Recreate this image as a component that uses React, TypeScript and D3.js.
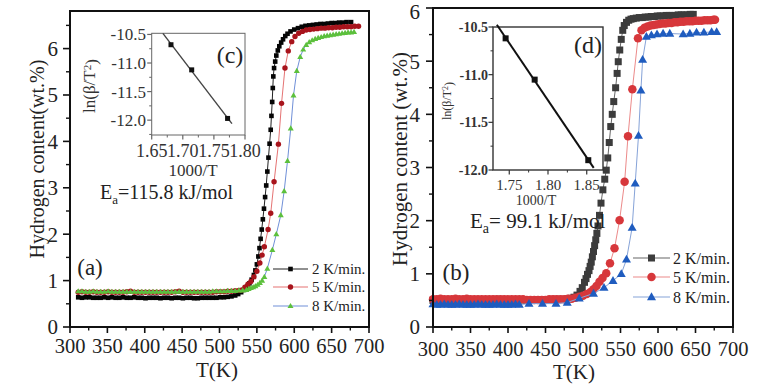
import React from "react";
import * as d3 from "d3";

const FONT = "'Liberation Serif','Times New Roman',serif";

type Pt = [number, number];

// ---------- axes ----------
const tempTicks = [300, 350, 400, 450, 500, 550, 600, 650, 700];
const tempMinor = [325, 375, 425, 475, 525, 575, 625, 675];
const contentTicks = [0, 1, 2, 3, 4, 5, 6];
const contentMinorA = [0.5, 1.5, 2.5, 3.5, 4.5, 5.5, 6.5];
const contentMinorB = [0.5, 1.5, 2.5, 3.5, 4.5, 5.5];
const rateLabels = ["2 K/min.", "5 K/min.", "8 K/min."];

// ---------- panel (a) ----------
const a2K: Pt[] = [
  [311, 0.64], [316, 0.63], [321, 0.64], [326, 0.64], [331, 0.63], [336, 0.63], [341, 0.63], [346, 0.64],
  [351, 0.63], [356, 0.64], [361, 0.63], [366, 0.63], [371, 0.64], [376, 0.63], [381, 0.63], [386, 0.64],
  [391, 0.63], [396, 0.63], [401, 0.62], [406, 0.63], [411, 0.63], [416, 0.63], [421, 0.62], [426, 0.63],
  [431, 0.63], [436, 0.62], [441, 0.63], [446, 0.63], [451, 0.62], [456, 0.63], [461, 0.63], [466, 0.62],
  [471, 0.62], [476, 0.63], [481, 0.63], [486, 0.63], [491, 0.63], [496, 0.63], [501, 0.64], [506, 0.64],
  [511, 0.65], [516, 0.66], [521, 0.68], [525, 0.71], [529, 0.75], [533, 0.8], [537, 0.87], [540, 0.94],
  [543, 1.02], [546, 1.12], [548, 1.22], [550, 1.35], [552, 1.52], [553.5, 1.7], [555, 1.9], [556.5, 2.1],
  [558, 2.32], [559.5, 2.55], [561, 2.8], [562.5, 3.05], [564, 3.35], [565.5, 3.65], [567, 3.95], [568.5, 4.25],
  [569.5, 4.55], [570.5, 4.85], [571.3, 5.15], [572, 5.4], [573, 5.58], [574.5, 5.72], [576, 5.85], [578, 5.96],
  [580, 6.05], [582.5, 6.13], [585, 6.2], [588, 6.27], [591, 6.32], [595, 6.37], [600, 6.41], [605, 6.44],
  [610, 6.47], [615, 6.49], [620, 6.5], [625, 6.51], [630, 6.52], [635, 6.53], [640, 6.53], [645, 6.54],
  [650, 6.55], [655, 6.55], [660, 6.56], [665, 6.56], [670, 6.57], [676, 6.57],
];
const a5K: Pt[] = [
  [311, 0.75], [316, 0.76], [321, 0.75], [326, 0.75], [331, 0.76], [336, 0.75], [341, 0.75], [346, 0.75],
  [351, 0.76], [356, 0.75], [361, 0.75], [366, 0.75], [371, 0.75], [376, 0.76], [381, 0.77], [386, 0.75],
  [391, 0.75], [396, 0.75], [401, 0.75], [406, 0.75], [411, 0.75], [416, 0.75], [421, 0.75], [426, 0.75],
  [431, 0.75], [436, 0.75], [441, 0.76], [446, 0.77], [451, 0.75], [456, 0.75], [461, 0.75], [466, 0.75],
  [471, 0.75], [476, 0.75], [481, 0.75], [486, 0.75], [491, 0.75], [496, 0.76], [501, 0.76], [506, 0.76],
  [511, 0.77], [516, 0.77], [521, 0.78], [526, 0.79], [530, 0.8], [534, 0.86], [538, 0.92], [542, 0.98],
  [546, 1.08], [550, 1.2], [554, 1.38], [557, 1.55], [560, 1.73], [565, 2.1], [568.5, 2.45], [573, 3.13],
  [578.8, 3.94], [583, 4.82], [587.6, 5.58], [592, 5.95], [596.6, 6.15], [601, 6.26], [606, 6.33], [611, 6.37],
  [616, 6.4], [621, 6.41], [626, 6.42], [631, 6.43], [636, 6.44], [641, 6.44], [646, 6.45], [651, 6.45],
  [656, 6.46], [661, 6.46], [666, 6.47], [671, 6.47], [676, 6.47], [681, 6.48], [686, 6.48],
];
const a8K: Pt[] = [
  [311, 0.77], [316, 0.77], [321, 0.76], [326, 0.76], [331, 0.77], [336, 0.76], [341, 0.76], [346, 0.76],
  [351, 0.77], [356, 0.76], [361, 0.76], [366, 0.76], [371, 0.76], [376, 0.76], [381, 0.76], [386, 0.76],
  [391, 0.76], [396, 0.76], [401, 0.76], [406, 0.76], [411, 0.76], [416, 0.76], [421, 0.76], [426, 0.76],
  [431, 0.76], [436, 0.76], [441, 0.76], [446, 0.76], [451, 0.76], [456, 0.76], [461, 0.76], [466, 0.76],
  [471, 0.76], [476, 0.76], [481, 0.76], [486, 0.76], [491, 0.77], [496, 0.77], [501, 0.77], [506, 0.77],
  [511, 0.78], [516, 0.78], [521, 0.78], [526, 0.79], [531, 0.79], [536, 0.8], [539, 0.82], [542, 0.84],
  [545, 0.86], [548, 0.88], [551, 0.91], [554, 0.95], [557, 1.0], [560, 1.08], [564, 1.26], [570.7, 1.66],
  [576, 2.0], [582, 2.41], [586.5, 2.93], [591, 3.58], [595.3, 4.28], [599, 4.99], [603.4, 5.52], [608, 5.82],
  [612, 5.98], [616, 6.08], [620, 6.14], [624, 6.18], [628, 6.21], [632, 6.23], [636, 6.25], [640, 6.27],
  [644, 6.28], [648, 6.29], [652, 6.3], [656, 6.31], [660, 6.32], [664, 6.33], [668, 6.34], [672, 6.35],
  [676, 6.35], [680, 6.36],
];

// inset (c)
const cInvT = [1.681, 1.7143, 1.772];
const cLnRate = [-10.68, -11.12, -11.97];
const cFitRange = [1.668, 1.779];
const cXTicks = [1.65, 1.7, 1.75, 1.8];
const cXMinor = [1.675, 1.725, 1.775];
const cYTicks = [-10.5, -11.0, -11.5, -12.0];
const cYMinor = [-10.75, -11.25, -11.75, -12.25];

// ---------- panel (b) ----------
const b2K: Pt[] = [
  [300, 0.5], [305, 0.5], [310, 0.5], [315, 0.51], [320, 0.5], [325, 0.5], [330, 0.51], [335, 0.5],
  [340, 0.5], [345, 0.5], [350, 0.51], [355, 0.5], [360, 0.5], [365, 0.5], [370, 0.51], [375, 0.5],
  [380, 0.51], [385, 0.52], [390, 0.52], [395, 0.51], [400, 0.51], [405, 0.5], [410, 0.5], [415, 0.51],
  [420, 0.51], [425, 0.5], [430, 0.5], [435, 0.5], [440, 0.51], [445, 0.51], [450, 0.51], [455, 0.51],
  [460, 0.52], [465, 0.52], [470, 0.52], [475, 0.52], [480, 0.53], [484, 0.54], [488, 0.56], [492, 0.6],
  [496, 0.67], [499, 0.74], [502, 0.84], [504, 0.91], [506, 0.99], [508, 1.06], [509.5, 1.14], [511, 1.22],
  [512.5, 1.32], [514, 1.42], [515.5, 1.53], [517, 1.64], [518.5, 1.76], [520, 1.9], [522, 2.1], [524, 2.33],
  [526.5, 2.58], [529, 2.78], [531, 2.95], [533, 3.18], [535, 3.47], [537, 3.77], [539, 4.0], [541, 4.24],
  [543.5, 4.5], [545.5, 4.77], [547, 4.99], [549, 5.21], [551, 5.41], [553, 5.58], [555, 5.67], [558, 5.73],
  [561, 5.77], [564, 5.79], [567, 5.8], [571, 5.81], [575, 5.82], [579, 5.82], [583, 5.83], [587, 5.83],
  [591, 5.84], [595, 5.84], [599, 5.85], [603, 5.85], [607, 5.85], [611, 5.86], [615, 5.86], [619, 5.86],
  [623, 5.86], [627, 5.87], [631, 5.87], [635, 5.87], [639, 5.87], [643, 5.88], [647, 5.88],
];
const b5K: Pt[] = [
  [300, 0.52], [305, 0.52], [310, 0.53], [315, 0.52], [320, 0.52], [325, 0.52], [330, 0.53], [335, 0.52],
  [340, 0.52], [345, 0.53], [350, 0.52], [355, 0.52], [360, 0.52], [365, 0.52], [370, 0.52], [375, 0.52],
  [380, 0.52], [385, 0.52], [390, 0.52], [395, 0.52], [400, 0.52], [405, 0.52], [410, 0.52], [415, 0.52],
  [420, 0.52], [425, 0.51], [430, 0.51], [435, 0.51], [440, 0.51], [445, 0.51], [450, 0.51], [455, 0.52],
  [460, 0.52], [465, 0.52], [470, 0.52], [475, 0.52], [480, 0.53], [485, 0.53], [490, 0.55], [495, 0.57],
  [500, 0.59], [505, 0.62], [510, 0.66], [514, 0.71], [518, 0.77], [522, 0.85], [526, 0.92], [531, 1.01],
  [536, 1.2], [542, 1.48], [548.8, 2.01], [555.5, 2.73], [560, 3.59], [565.8, 4.47], [573.3, 5.43], [578, 5.58],
  [582, 5.63], [586, 5.65], [590, 5.67], [594, 5.68], [598, 5.69], [602, 5.7], [606, 5.71], [610, 5.71],
  [614, 5.72], [618, 5.72], [622, 5.73], [626, 5.73], [630, 5.74], [634, 5.74], [638, 5.75], [642, 5.75],
  [646, 5.75], [650, 5.76], [654, 5.76], [658, 5.76], [662, 5.77], [666, 5.77], [670, 5.77], [674, 5.78],
  [676, 5.78],
];
const b8K: Pt[] = [
  [300, 0.43], [305, 0.42], [310, 0.42], [315, 0.43], [320, 0.42], [325, 0.42], [330, 0.42], [335, 0.43],
  [340, 0.42], [345, 0.42], [350, 0.42], [355, 0.42], [360, 0.43], [365, 0.42], [370, 0.42], [375, 0.42],
  [380, 0.42], [385, 0.43], [390, 0.42], [395, 0.42], [400, 0.42], [405, 0.42], [410, 0.43], [415, 0.42],
  [428, 0.44], [446, 0.44], [464, 0.44], [479, 0.46], [495, 0.54], [514, 0.63], [528, 0.74], [540, 0.87],
  [551, 1.0], [558, 1.27], [565.5, 1.87], [569.6, 2.7], [574, 3.6], [577.2, 4.45], [579.5, 5.03], [584.5, 5.46],
  [591.2, 5.49], [598.7, 5.51], [606.8, 5.52], [615.7, 5.52], [633.5, 5.51], [642.5, 5.52], [651.4, 5.54],
  [661.2, 5.54], [671.5, 5.55], [678.2, 5.55],
];

// inset (d)
const dInvT = [1.7453, 1.7828, 1.852];
const dLnRate = [-10.619, -11.052, -11.897];
const dFitRange = [1.734, 1.859];
const dXTicks = [1.75, 1.8, 1.85];
const dXMinor = [1.775, 1.825];
const dYTicks = [-10.5, -11.0, -11.5, -12.0];
const dYMinor = [-10.75, -11.25, -11.75];

// ---------- helpers ----------
type Series = {
  data: Pt[];
  shape: "square" | "circle" | "triangle";
  size: number;
  fill: string;
  line: string;
  lineWidth: number;
};

function Marker({ shape, x, y, size, fill }: { shape: string; x: number; y: number; size: number; fill: string }) {
  if (shape === "square") return <rect x={x - size / 2} y={y - size / 2} width={size} height={size} fill={fill} />;
  if (shape === "circle") return <circle cx={x} cy={y} r={size / 2} fill={fill} />;
  const d = d3.symbol(d3.symbolTriangle, size * size * 0.433)() || "";
  return <path d={d} transform={`translate(${x},${y + size * 0.06})`} fill={fill} />;
}

function fitLine(xs: number[], ys: number[], range: number[]): Pt[] {
  const mx = d3.mean(xs)!;
  const my = d3.mean(ys)!;
  let num = 0;
  let den = 0;
  xs.forEach((x, i) => {
    num += (x - mx) * (ys[i] - my);
    den += (x - mx) * (x - mx);
  });
  const slope = num / den;
  const b = my - slope * mx;
  return range.map((x) => [x, slope * x + b] as Pt);
}

type PanelProps = {
  left: number;
  right: number;
  top: number;
  bottom: number;
  yMax: number;
  yMinor: number[];
  series: Series[];
  drawOrder: number[];
  yTitle: string;
  yTitleX: number;
  yTitleY: number;
  yTitleSize: number;
  xTitleX: number;
  xTitleY: number;
  xLabelY: number;
  yLabelX: number;
  legend: { lx0: number; lx1: number; tx: number; rows: number[]; size: number };
};

function MainPanel(p: PanelProps) {
  const x = d3.scaleLinear().domain([300, 700]).range([p.left, p.right]);
  const y = d3.scaleLinear().domain([0, p.yMax]).range([p.bottom, p.top]);
  const line = d3
    .line<Pt>()
    .x((d) => x(d[0]))
    .y((d) => y(d[1]));
  return (
    <g>
      {p.drawOrder.map((si) => {
        const s = p.series[si];
        return (
          <g key={"s" + si}>
            <path d={line(s.data) || ""} fill="none" stroke={s.line} strokeWidth={s.lineWidth} />
            {s.data.map((d, i) => (
              <Marker key={i} shape={s.shape} x={x(d[0])} y={y(d[1])} size={s.size} fill={s.fill} />
            ))}
          </g>
        );
      })}
      <rect
        x={p.left}
        y={p.top}
        width={p.right - p.left}
        height={p.bottom - p.top}
        fill="none"
        stroke="#111"
        strokeWidth={2}
      />
      {tempTicks.map((t) => (
        <g key={"xt" + t}>
          <line x1={x(t)} x2={x(t)} y1={p.bottom} y2={p.bottom + 6} stroke="#111" strokeWidth={1.6} />
          <text
            x={x(t)}
            y={p.xLabelY}
            dy="0.35em"
            textAnchor="middle"
            fontSize={20.5}
            fontFamily={FONT}
            fill="#222"
          >
            {t}
          </text>
        </g>
      ))}
      {tempMinor.map((t) => (
        <line key={"xm" + t} x1={x(t)} x2={x(t)} y1={p.bottom} y2={p.bottom + 3.5} stroke="#111" strokeWidth={1.4} />
      ))}
      {contentTicks.map((v) => (
        <g key={"yt" + v}>
          <line x1={p.left - 7} x2={p.left} y1={y(v)} y2={y(v)} stroke="#111" strokeWidth={1.6} />
          <text
            x={p.yLabelX}
            y={Math.max(y(v), 12)}
            dy="0.35em"
            textAnchor="end"
            fontSize={21}
            fontFamily={FONT}
            fill="#222"
          >
            {v}
          </text>
        </g>
      ))}
      {p.yMinor.map((v) => (
        <line key={"ym" + v} x1={p.left - 4} x2={p.left} y1={y(v)} y2={y(v)} stroke="#111" strokeWidth={1.4} />
      ))}
      <text
        x={p.xTitleX}
        y={p.xTitleY}
        dy="0.35em"
        textAnchor="middle"
        fontSize={21}
        fontFamily={FONT}
        fill="#222"
      >
        T(K)
      </text>
      <text
        transform={`translate(${p.yTitleX},${p.yTitleY}) rotate(-90)`}
        dy="0.35em"
        textAnchor="middle"
        fontSize={p.yTitleSize}
        fontFamily={FONT}
        fill="#222"
      >
        {p.yTitle}
      </text>
      {p.series.map((s, i) => (
        <g key={"lg" + i}>
          <line
            x1={p.legend.lx0}
            x2={p.legend.lx1}
            y1={p.legend.rows[i]}
            y2={p.legend.rows[i]}
            stroke={s.line}
            strokeWidth={1.2}
          />
          <Marker
            shape={s.shape}
            x={(p.legend.lx0 + p.legend.lx1) / 2}
            y={p.legend.rows[i]}
            size={s.size}
            fill={s.fill}
          />
          <text
            x={p.legend.tx}
            y={p.legend.rows[i]}
            dy="0.35em"
            fontSize={p.legend.size}
            fontFamily={FONT}
            fill="#222"
          >
            {rateLabels[i]}
          </text>
        </g>
      ))}
    </g>
  );
}

type InsetProps = {
  left: number;
  right: number;
  top: number;
  bottom: number;
  xDomain: number[];
  yDomain: number[];
  xs: number[];
  ys: number[];
  fitRange: number[];
  xTicks: number[];
  xMinor: number[];
  yTicks: number[];
  yMinor: number[];
  frameColor: string;
  frameWidth: number;
  lineColor: string;
  lineWidth: number;
  markerSize: number;
  tickSize: number;
  xTickSize: number;
  yTickBold: boolean;
  xLabelY: number;
  yLabelX: number;
  xTitleX: number;
  xTitleY: number;
  xTitleSize: number;
  yTitleX: number;
  yTitleY: number;
  yTitleSize: number;
  tag: string;
  tagX: number;
  tagY: number;
};

function Inset(p: InsetProps) {
  const x = d3.scaleLinear().domain(p.xDomain).range([p.left, p.right]);
  const y = d3.scaleLinear().domain(p.yDomain).range([p.bottom, p.top]);
  const fit = fitLine(p.xs, p.ys, p.fitRange);
  const line = d3
    .line<Pt>()
    .x((d) => x(d[0]))
    .y((d) => y(d[1]));
  return (
    <g>
      <rect x={p.left} y={p.top} width={p.right - p.left} height={p.bottom - p.top} fill="#fff" stroke={p.frameColor} strokeWidth={p.frameWidth} />
      <path d={line(fit) || ""} stroke={p.lineColor} strokeWidth={p.lineWidth} fill="none" />
      {p.xs.map((v, i) => (
        <rect
          key={i}
          x={x(v) - p.markerSize / 2}
          y={y(p.ys[i]) - p.markerSize / 2}
          width={p.markerSize}
          height={p.markerSize}
          fill="#111"
        />
      ))}
      {p.xTicks.map((t) => (
        <g key={"x" + t}>
          <line x1={x(t)} x2={x(t)} y1={p.bottom} y2={p.bottom + 4.5} stroke={p.frameColor} strokeWidth={1.2} />
          <text x={x(t)} y={p.xLabelY} dy="0.35em" textAnchor="middle" fontSize={p.xTickSize} fontFamily={FONT} fill="#333">
            {t.toFixed(2)}
          </text>
        </g>
      ))}
      {p.xMinor.map((t) => (
        <line key={"xm" + t} x1={x(t)} x2={x(t)} y1={p.bottom} y2={p.bottom + 2.5} stroke={p.frameColor} strokeWidth={1} />
      ))}
      {p.yTicks.map((t) => (
        <g key={"y" + t}>
          <line x1={p.left - 4.5} x2={p.left} y1={y(t)} y2={y(t)} stroke={p.frameColor} strokeWidth={1.2} />
          <text
            x={p.yLabelX}
            y={y(t)}
            dy="0.35em"
            textAnchor="end"
            fontSize={p.tickSize}
            fontWeight={p.yTickBold ? "bold" : "normal"}
            fontFamily={FONT}
            fill="#333"
          >
            {t.toFixed(1)}
          </text>
        </g>
      ))}
      {p.yMinor.map((t) => (
        <line key={"ym" + t} x1={p.left - 2.5} x2={p.left} y1={y(t)} y2={y(t)} stroke={p.frameColor} strokeWidth={1} />
      ))}
      <text x={p.xTitleX} y={p.xTitleY} dy="0.35em" textAnchor="middle" fontSize={p.xTitleSize} fontFamily={FONT} fill="#333">
        1000/T
      </text>
      <text
        transform={`translate(${p.yTitleX},${p.yTitleY}) rotate(-90)`}
        dy="0.35em"
        textAnchor="middle"
        fontSize={p.yTitleSize}
        fontFamily={FONT}
        fill="#333"
      >
        ln(β/T
        <tspan dy="-0.4em" fontSize={p.yTitleSize * 0.65}>
          2
        </tspan>
        <tspan dy="0.4em">)</tspan>
      </text>
      <text x={p.tagX} y={p.tagY} dy="0.35em" textAnchor="middle" fontSize={24} fontFamily={FONT} fill="#222">
        {p.tag}
      </text>
    </g>
  );
}

export default function App() {
  const seriesA: Series[] = [
    { data: a2K, shape: "square", size: 4.6, fill: "#050505", line: "#222", lineWidth: 1 },
    { data: a5K, shape: "circle", size: 5.4, fill: "#a8141c", line: "#e57373", lineWidth: 1 },
    { data: a8K, shape: "triangle", size: 6, fill: "#5cc03c", line: "#7090d8", lineWidth: 1 },
  ];
  const seriesB: Series[] = [
    { data: b2K, shape: "square", size: 7, fill: "#3c3c3c", line: "#666", lineWidth: 1 },
    { data: b5K, shape: "circle", size: 8.5, fill: "#d7373b", line: "#ec8a8a", lineWidth: 1 },
    { data: b8K, shape: "triangle", size: 9, fill: "#1f5cbf", line: "#86a3d8", lineWidth: 1 },
  ];
  return (
    <svg width={780} height={388} style={{ display: "block", position: "absolute", left: 0, top: 0, background: "#fff" }}>
      <rect width={780} height={388} fill="#fff" />
      <MainPanel
        left={70}
        right={369}
        top={11}
        bottom={327}
        yMax={6.81}
        yMinor={contentMinorA}
        series={seriesA}
        drawOrder={[0, 1, 2]}
        yTitle="Hydrogen content(wt.%)"
        yTitleX={37}
        yTitleY={159}
        yTitleSize={20}
        xTitleX={217}
        xTitleY={370}
        xLabelY={346}
        yLabelX={58}
        legend={{ lx0: 273, lx1: 308, tx: 312, rows: [269, 287, 306], size: 15 }}
      />
      <Inset
        left={151.7}
        right={245}
        top={33.3}
        bottom={135}
        xDomain={[1.65, 1.8]}
        yDomain={[-12.26, -10.48]}
        xs={cInvT}
        ys={cLnRate}
        fitRange={cFitRange}
        xTicks={cXTicks}
        xMinor={cXMinor}
        yTicks={cYTicks}
        yMinor={cYMinor}
        frameColor="#666"
        frameWidth={1}
        lineColor="#444"
        lineWidth={1.4}
        markerSize={5}
        tickSize={17}
        xTickSize={18}
        yTickBold={false}
        xLabelY={151}
        yLabelX={146}
        xTitleX={193}
        xTitleY={170}
        xTitleSize={17}
        yTitleX={89}
        yTitleY={86}
        yTitleSize={17}
        tag="(c)"
        tagX={230}
        tagY={55}
      />
      <text x={100} y={199} fontSize={20} fontFamily={FONT} fill="#222">
        E<tspan dy="5" fontSize={13}>a</tspan>
        <tspan dy="-5">=115.8 kJ/mol</tspan>
      </text>
      <text x={90} y={267} dy="0.35em" textAnchor="middle" fontSize={23} fontFamily={FONT} fill="#222">
        (a)
      </text>

      <MainPanel
        left={433}
        right={733}
        top={8}
        bottom={327}
        yMax={6}
        yMinor={contentMinorB}
        series={seriesB}
        drawOrder={[0, 1, 2]}
        yTitle="Hydrogen content (wt.%)"
        yTitleX={400}
        yTitleY={159}
        yTitleSize={21}
        xTitleX={574}
        xTitleY={372}
        xLabelY={349}
        yLabelX={420}
        legend={{ lx0: 633, lx1: 670, tx: 673, rows: [258, 277, 297], size: 16 }}
      />
      <Inset
        left={493}
        right={603}
        top={27}
        bottom={170}
        xDomain={[1.729, 1.871]}
        yDomain={[-12.0, -10.5]}
        xs={dInvT}
        ys={dLnRate}
        fitRange={dFitRange}
        xTicks={dXTicks}
        xMinor={dXMinor}
        yTicks={dYTicks}
        yMinor={dYMinor}
        frameColor="#333"
        frameWidth={1.4}
        lineColor="#111"
        lineWidth={2}
        markerSize={6}
        tickSize={14}
        xTickSize={15}
        yTickBold={true}
        xLabelY={185}
        yLabelX={488}
        xTitleX={536}
        xTitleY={200}
        xTitleSize={14}
        yTitleX={447}
        yTitleY={101}
        yTitleSize={12}
        tag="(d)"
        tagX={588}
        tagY={45}
      />
      <text x={470} y={228} fontSize={21} fontFamily={FONT} fill="#222">
        E<tspan dy="5" fontSize={14}>a</tspan>
        <tspan dy="-5">= 99.1 kJ/mol</tspan>
      </text>
      <text x={456} y={272} dy="0.35em" textAnchor="middle" fontSize={23} fontFamily={FONT} fill="#222">
        (b)
      </text>
    </svg>
  );
}
